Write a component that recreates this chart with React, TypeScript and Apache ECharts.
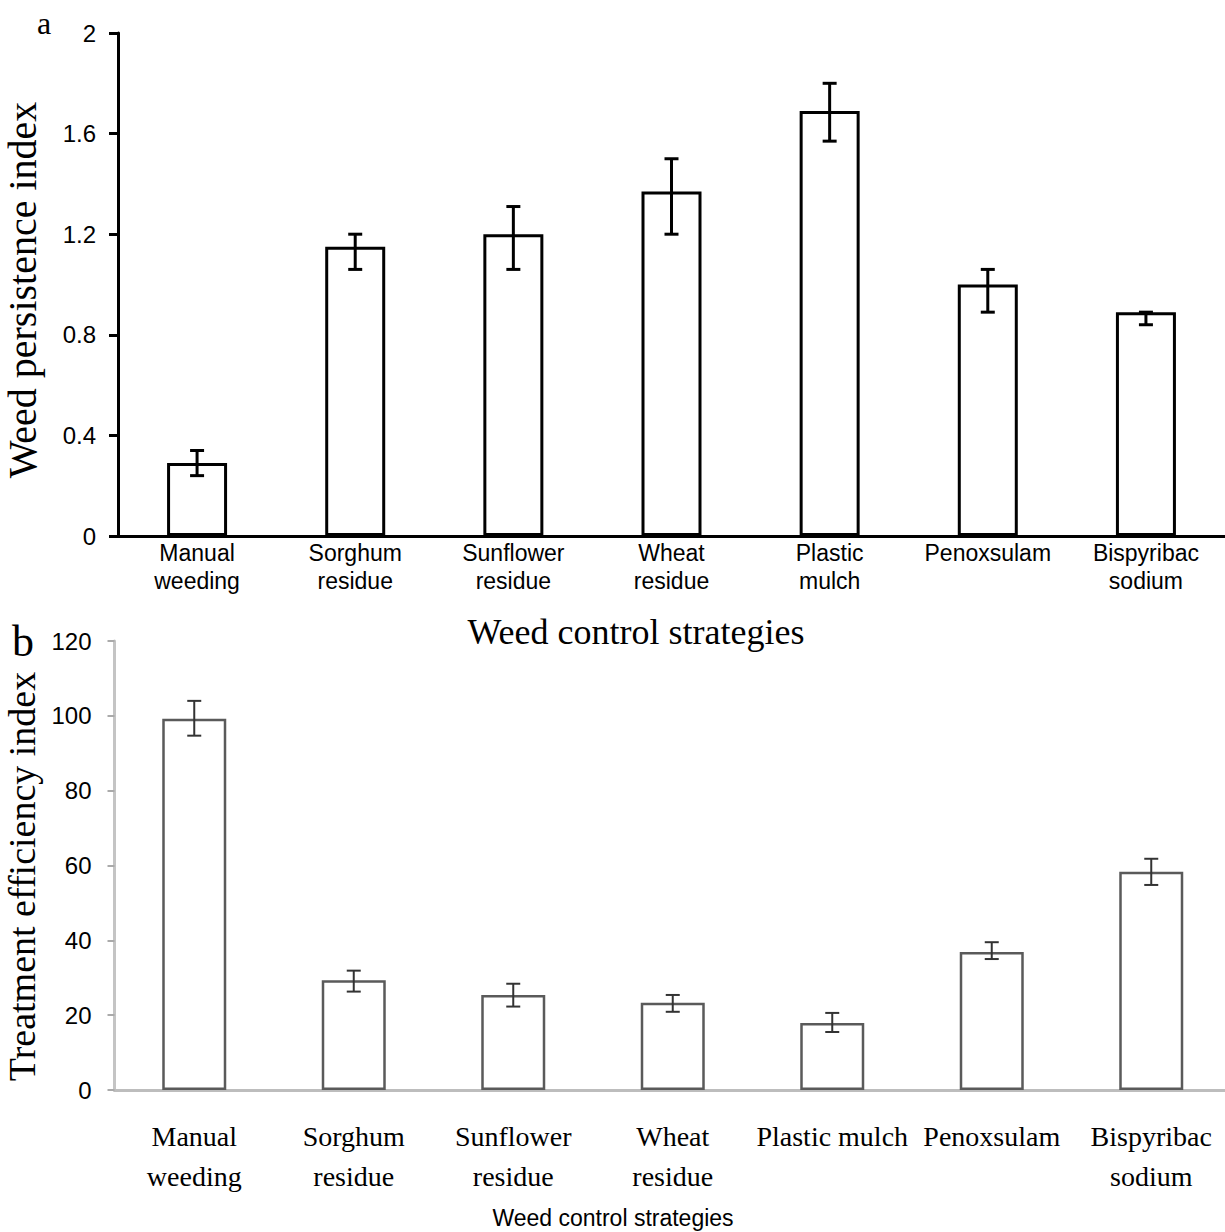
import React, { useEffect, useRef } from "react";
import * as echarts from "echarts";

const categories = [
  "Manual weeding",
  "Sorghum residue",
  "Sunflower residue",
  "Wheat residue",
  "Plastic mulch",
  "Penoxsulam",
  "Bispyribac sodium",
];
const topLabels = [
  "Manual\nweeding",
  "Sorghum\nresidue",
  "Sunflower\nresidue",
  "Wheat\nresidue",
  "Plastic\nmulch",
  "Penoxsulam",
  "Bispyribac\nsodium",
];
const bottomLabels = [
  "Manual\nweeding",
  "Sorghum\nresidue",
  "Sunflower\nresidue",
  "Wheat\nresidue",
  "Plastic mulch",
  "Penoxsulam",
  "Bispyribac\nsodium",
];

const persistence = [0.29, 1.15, 1.2, 1.37, 1.69, 1.0, 0.89];
const persistenceLow = [0.24, 1.06, 1.06, 1.2, 1.57, 0.89, 0.84];
const persistenceHigh = [0.34, 1.2, 1.31, 1.5, 1.8, 1.06, 0.89];

const efficiency = [99.2, 29.3, 25.4, 23.3, 17.9, 36.9, 58.3];
const efficiencyLow = [94.7, 26.3, 22.3, 20.9, 15.5, 35.0, 54.8];
const efficiencyHigh = [104.0, 31.9, 28.4, 25.4, 20.6, 39.5, 61.8];

const topTicks = [0, 0.4, 0.8, 1.2, 1.6, 2];
const bottomTicks = [0, 20, 40, 60, 80, 100, 120];

function errorRenderer(color: string, width: number, half: number) {
  return (params: any, api: any) => {
    const x = api.value(0);
    const lo = api.value(1);
    const hi = api.value(2);
    const pHi = api.coord([x, hi]);
    const pLo = api.coord([x, lo]);
    const style = { stroke: color, lineWidth: width, fill: "none" };
    return {
      type: "group",
      children: [
        { type: "line", shape: { x1: pHi[0], y1: pHi[1], x2: pLo[0], y2: pLo[1] }, style },
        { type: "line", shape: { x1: pHi[0] - half, y1: pHi[1], x2: pHi[0] + half, y2: pHi[1] }, style },
        { type: "line", shape: { x1: pLo[0] - half, y1: pLo[1], x2: pLo[0] + half, y2: pLo[1] }, style },
      ],
    };
  };
}

export default function App() {
  const ref = useRef<HTMLDivElement>(null);
  useEffect(() => {
    if (!ref.current) return;
    const chart = echarts.init(ref.current, undefined, { renderer: "svg" });
    const sans = "Liberation Sans, Arial, sans-serif";
    const serif = "Liberation Serif, Times New Roman, serif";
    const option: any = {
      animation: false,
      backgroundColor: "#ffffff",
      grid: [
        { left: 118, top: 33, width: 1107, height: 503, containLabel: false, outerBoundsMode: "none" },
        { left: 114.5, top: 641, width: 1116.5, height: 449, containLabel: false, outerBoundsMode: "none" },
      ],
      xAxis: [
        {
          type: "category",
          gridIndex: 0,
          data: categories,
          axisLine: { lineStyle: { color: "#000", width: 3 } },
          axisTick: { inside: true, length: 5, lineStyle: { color: "#888", width: 1 } },
          axisLabel: {
            interval: 0,
            margin: 3,
            fontFamily: sans,
            fontSize: 23,
            lineHeight: 28,
            color: "#000",
            formatter: (v: string) => topLabels[categories.indexOf(v)],
          },
        },
        {
          type: "category",
          gridIndex: 1,
          data: categories,
          axisLine: { lineStyle: { color: "#bdbdbd", width: 3 } },
          axisTick: { length: 7, lineStyle: { color: "#aaa", width: 2 } },
          axisLabel: {
            interval: 0,
            margin: 26,
            fontFamily: serif,
            fontSize: 28,
            lineHeight: 40,
            color: "#000",
            formatter: (v: string) => bottomLabels[categories.indexOf(v)],
          },
        },
      ],
      yAxis: [
        {
          type: "value",
          gridIndex: 0,
          min: topTicks[0],
          max: topTicks[topTicks.length - 1],
          interval: 0.4,
          splitLine: { show: false },
          axisLine: { show: true, lineStyle: { color: "#000", width: 3 } },
          axisTick: { show: true, length: 9, lineStyle: { color: "#000", width: 3 } },
          axisLabel: {
            margin: 22,
            fontFamily: sans,
            fontSize: 24,
            color: "#000",
            formatter: (v: number) => String(Math.round(v * 10) / 10),
          },
          name: "Weed persistence index",
          nameLocation: "middle",
          nameRotate: 90,
          nameGap: 76,
          nameTextStyle: { fontFamily: serif, fontSize: 40, color: "#000", padding: [0, 11, 0, 0] },
        },
        {
          type: "value",
          gridIndex: 1,
          min: bottomTicks[0],
          max: bottomTicks[bottomTicks.length - 1],
          interval: 20,
          splitLine: { show: false },
          axisLine: { show: true, lineStyle: { color: "#c4c4c4", width: 3 } },
          axisTick: { show: true, length: 7, lineStyle: { color: "#aaa", width: 2 } },
          axisLabel: { margin: 23, fontFamily: sans, fontSize: 24, color: "#000" },
          name: "Treatment efficiency index",
          nameLocation: "middle",
          nameRotate: 90,
          nameGap: 74,
          nameTextStyle: { fontFamily: serif, fontSize: 38, color: "#000", padding: [0, 22, 0, 0] },
        },
      ],
      series: [
        {
          type: "bar",
          xAxisIndex: 0,
          yAxisIndex: 0,
          data: persistence,
          barWidth: 60,
          itemStyle: { color: "#fff", borderColor: "#000", borderWidth: 3 },
        },
        {
          type: "custom",
          xAxisIndex: 0,
          yAxisIndex: 0,
          z: 5,
          renderItem: errorRenderer("#000", 3, 7),
          encode: { x: 0, y: [1, 2] },
          data: categories.map((_, i) => [i, persistenceLow[i], persistenceHigh[i]]),
        },
        {
          type: "bar",
          xAxisIndex: 1,
          yAxisIndex: 1,
          data: efficiency,
          barWidth: 64,
          itemStyle: { color: "#fff", borderColor: "#5a5a5a", borderWidth: 2.5 },
        },
        {
          type: "custom",
          xAxisIndex: 1,
          yAxisIndex: 1,
          z: 5,
          renderItem: errorRenderer("#333", 2, 7),
          encode: { x: 0, y: [1, 2] },
          data: categories.map((_, i) => [i, efficiencyLow[i], efficiencyHigh[i]]),
        },
      ],
      graphic: [
        {
          type: "text",
          x: 44,
          y: 23,
          style: { text: "a", font: `32px ${serif}`, fill: "#000", align: "center", verticalAlign: "middle" },
        },
        {
          type: "text",
          x: 23,
          y: 641,
          style: { text: "b", font: `44px ${serif}`, fill: "#000", align: "center", verticalAlign: "middle" },
        },
        {
          type: "text",
          x: 636,
          y: 632,
          style: {
            text: "Weed control strategies",
            font: `36px ${serif}`,
            fill: "#000",
            align: "center",
            verticalAlign: "middle",
          },
        },
        {
          type: "text",
          x: 613,
          y: 1218,
          style: {
            text: "Weed control strategies",
            font: `23px ${sans}`,
            fill: "#000",
            align: "center",
            verticalAlign: "middle",
          },
        },
      ],
    };
    chart.setOption(option);
    return () => chart.dispose();
  }, []);
  return (
    <div
      ref={ref}
      style={{ position: "absolute", left: 0, top: 0, width: 1225, height: 1232, background: "#fff" }}
    />
  );
}
